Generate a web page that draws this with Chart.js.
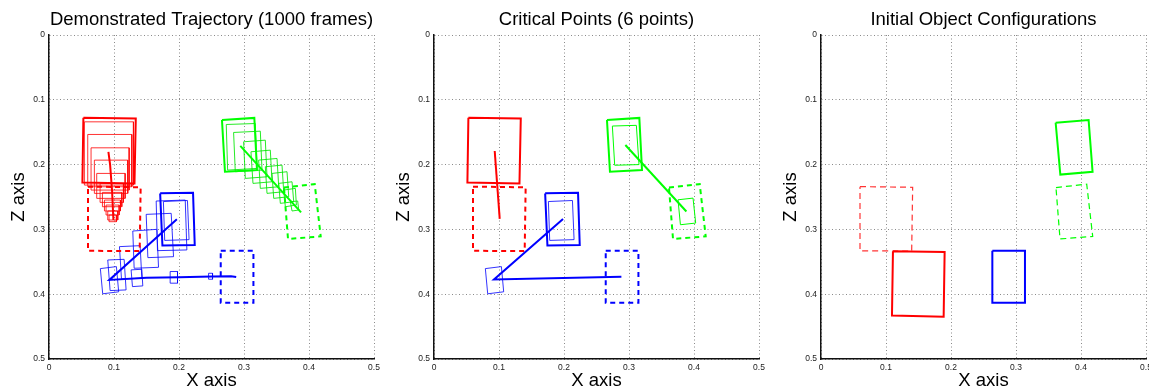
<!DOCTYPE html>
<html>
<head>
<meta charset="utf-8">
<title>Object trajectories</title>
<script src="https://cdn.jsdelivr.net/npm/chart.js@4.4.0/dist/chart.umd.min.js"></script>
<style>
  body { margin: 0; background: #fff; width: 1149px; height: 392px; position: relative; overflow: hidden; }
  canvas { position: absolute; top: 0; }
  #trajChart { left: 0; }
  #criticalChart { left: 385px; }
  #initChart { left: 772px; }
</style>
</head>
<body>
<canvas id="trajChart" width="385" height="392"></canvas>
<canvas id="criticalChart" width="387" height="392"></canvas>
<canvas id="initChart" width="377" height="392"></canvas>
<script>
// axis ticks (x and z share the same range)
const tickValues = [0, 0.1, 0.2, 0.3, 0.4, 0.5];
const tickLabels = ["0", "0.1", "0.2", "0.3", "0.4", "0.5"];
const panelTitles = ["Demonstrated Trajectory (1000 frames)", "Critical Points (6 points)", "Initial Object Configurations"];

// goal boxes (dashed), corners as [x, z]
const redGoal = [[0.060, 0.234], [0.141, 0.235], [0.1395, 0.3335], [0.060, 0.333]];
const greenGoal = [[0.3615, 0.2354], [0.4088, 0.2302], [0.418, 0.3108], [0.3677, 0.3148]];
const blueGoal = [[0.2642, 0.3328], [0.3145, 0.3328], [0.3145, 0.4132], [0.2642, 0.4132]];

// first frame of each object (thick)
const redStart = [[0.0529, 0.1278], [0.1335, 0.1289], [0.1315, 0.229], [0.0514, 0.2276]];
const greenStart = [[0.2661, 0.131], [0.3159, 0.1279], [0.320, 0.2085], [0.2707, 0.211]];
const blueStart = [[0.171, 0.2444], [0.2216, 0.2435], [0.2242, 0.324], [0.1745, 0.325]];

// trajectory frames (thin)
const redFrames = [
  [[0.0544, 0.134], [0.1299, 0.134], [0.1299, 0.2316], [0.0544, 0.2316]],
  [[0.0596, 0.1535], [0.1274, 0.1535], [0.1274, 0.2342], [0.0596, 0.2342]],
  [[0.0647, 0.1741], [0.1233, 0.1741], [0.1233, 0.2393], [0.0647, 0.2393]],
  [[0.0698, 0.1931], [0.1212, 0.1931], [0.1212, 0.2444], [0.0698, 0.2444]],
  [[0.0734, 0.2136], [0.1171, 0.2136], [0.1171, 0.2521], [0.0734, 0.2521]],
  [[0.0786, 0.229], [0.1145, 0.229], [0.1145, 0.2583], [0.0786, 0.2583]],
  [[0.0822, 0.2429], [0.112, 0.2429], [0.112, 0.265], [0.0822, 0.265]],
  [[0.0853, 0.2547], [0.1099, 0.2547], [0.1099, 0.2716], [0.0853, 0.2716]],
  [[0.0878, 0.2624], [0.1079, 0.2624], [0.1079, 0.2778], [0.0878, 0.2778]],
  [[0.0904, 0.2716], [0.1058, 0.2716], [0.1058, 0.2855], [0.0904, 0.2855]],
  [[0.0924, 0.2778], [0.1037, 0.2778], [0.1037, 0.2881], [0.0924, 0.2881]]
];
const greenFrames = [
  [[0.2727, 0.1381], [0.3174, 0.1366], [0.320, 0.2059], [0.2748, 0.2085]],
  [[0.284, 0.1504], [0.3251, 0.1484], [0.3277, 0.2085], [0.2866, 0.211]],
  [[0.2994, 0.1648], [0.3328, 0.1623], [0.3354, 0.2188], [0.302, 0.2213]],
  [[0.3107, 0.1802], [0.3405, 0.1777], [0.3431, 0.2265], [0.3138, 0.229]],
  [[0.3225, 0.1931], [0.3508, 0.1905], [0.3534, 0.2342], [0.3251, 0.2367]],
  [[0.3328, 0.2033], [0.3585, 0.2008], [0.3611, 0.2419], [0.3354, 0.2444]],
  [[0.3431, 0.2136], [0.3662, 0.211], [0.3688, 0.2496], [0.3457, 0.2521]],
  [[0.3534, 0.229], [0.3739, 0.2265], [0.3765, 0.2573], [0.3559, 0.2598]],
  [[0.3611, 0.2393], [0.379, 0.2367], [0.3806, 0.2624], [0.3636, 0.265]],
  [[0.3713, 0.2573], [0.3826, 0.2562], [0.3842, 0.2701], [0.3739, 0.2716]]
];
const blueFrames = [
  [[0.176, 0.257], [0.213, 0.2554], [0.2155, 0.3158], [0.178, 0.317]],
  [[0.1649, 0.2562], [0.2096, 0.2547], [0.2121, 0.3317], [0.1669, 0.3328]],
  [[0.1495, 0.2768], [0.188, 0.2752], [0.1916, 0.3421], [0.1521, 0.3436]],
  [[0.1289, 0.3025], [0.1659, 0.2999], [0.1685, 0.3585], [0.131, 0.360]],
  [[0.1084, 0.3266], [0.1402, 0.3251], [0.1428, 0.3754], [0.1115, 0.3765]],
  [[0.0904, 0.3472], [0.1156, 0.3462], [0.1186, 0.3934], [0.094, 0.3944]],
  [[0.079, 0.3605], [0.1037, 0.3574], [0.1072, 0.3963], [0.0826, 0.3994]],
  [[0.1263, 0.3625], [0.1428, 0.3615], [0.1443, 0.3872], [0.1284, 0.3883]],
  [[0.1864, 0.365], [0.1977, 0.365], [0.1977, 0.383], [0.1864, 0.383]],
  [[0.2455, 0.3677], [0.2516, 0.3677], [0.2516, 0.3769], [0.2455, 0.3769]]
];

// centre paths of the demonstration
const redPath = [[0.0914, 0.1802], [0.094, 0.200], [0.097, 0.240], [0.0991, 0.2855]];
const greenPath = [[0.2943, 0.171], [0.3878, 0.2737]];
const bluePath = [[0.1967, 0.2845], [0.0929, 0.378], [0.150, 0.3745], [0.200, 0.3738], [0.250, 0.3728], [0.280, 0.3722], [0.288, 0.3735]];

// critical point boxes
const greenCritical = [
  [[0.2744, 0.1405], [0.3113, 0.1394], [0.3154, 0.200], [0.278, 0.201]],
  [[0.3754, 0.2543], [0.3985, 0.2517], [0.4026, 0.2902], [0.3791, 0.2928]]
];
const blueCritical = [
  [[0.176, 0.257], [0.213, 0.2554], [0.2155, 0.3158], [0.178, 0.317]],
  [[0.079, 0.3605], [0.1037, 0.3574], [0.1072, 0.3963], [0.0826, 0.3994]]
];
const redCriticalPath = [[0.0934, 0.179], [0.1011, 0.2838]];
const greenCriticalPath = [[0.2944, 0.1697], [0.3883, 0.2723]];
const blueCriticalPath = [[0.1985, 0.284], [0.0923, 0.3774], [0.2883, 0.3732]];

// initial configuration
const redInit = [[0.1107, 0.3338], [0.1902, 0.3348], [0.1887, 0.4348], [0.1092, 0.4328]];
const greenInit = [[0.361, 0.1354], [0.4117, 0.1312], [0.4178, 0.2112], [0.3682, 0.2154]];
const blueInit = [[0.2636, 0.3328], [0.3138, 0.3328], [0.3138, 0.4132], [0.2636, 0.4132]];

const RED = "#ff0000", GREEN = "#00ff00", BLUE = "#0000ff";
const RED_T = "rgba(255,0,0,0.8)", GREEN_T = "rgba(0,230,0,0.85)", BLUE_T = "rgba(0,0,255,0.8)";
const FONT = "'Liberation Sans', Arial, sans-serif";

/* ==========================
   Helpers
========================== */
function toPoints(list) {
    return list.map(p => ({ x: p[0], y: p[1] }));
}

function box(corners, color, width, dash) {
    const pts = toPoints(corners);
    pts.push(pts[0]);
    return line(pts, color, width, dash);
}

function path(list, color, width) {
    return line(toPoints(list), color, width);
}

function line(data, color, width, dash) {
    return {
        data: data,
        showLine: true,
        borderColor: color,
        borderWidth: width,
        borderDash: dash || [],
        borderJoinStyle: "miter",
        pointRadius: 0,
        pointHoverRadius: 0,
        fill: false,
        tension: 0
    };
}

function axis(title, isX) {
    return {
        type: "linear",
        min: 0,
        max: 0.5,
        reverse: !isX,
        afterBuildTicks: s => { s.ticks = tickValues.map(v => ({ value: v })); },
        afterFit: s => {
            if (isX) { s.height = 33; s.paddingLeft = 0; s.paddingRight = 0; }
            else { s.width = 49; s.paddingTop = 0; s.paddingBottom = 0; }
        },
        ticks: {
            padding: 4,
            color: "#222",
            font: { family: FONT, size: 8.5 },
            maxRotation: 0,
            callback: (v, i) => tickLabels[i]
        },
        grid: { color: "#8a8a8a", lineWidth: 1, drawTicks: false },
        border: { display: true, color: "#111", width: 1.5, dash: [1, 2.5] },
        title: {
            display: true,
            text: title,
            color: "#000",
            font: { family: FONT, size: 18.5 },
            padding: isX ? { top: 0, bottom: 0 } : { top: 8, bottom: 0 }
        }
    };
}

function makePanel(id, title, rightPad, datasets) {
    new Chart(document.getElementById(id), {
        type: "scatter",
        data: { datasets: datasets },
        options: {
            responsive: false,
            animation: false,
            devicePixelRatio: 1,
            layout: { padding: { left: 0, right: rightPad, top: 0, bottom: 0 } },
            scales: { x: axis("X axis", true), y: axis("Z axis", false) },
            plugins: {
                legend: { display: false },
                tooltip: { enabled: false },
                title: {
                    display: true,
                    text: title,
                    fullSize: false,
                    color: "#000",
                    font: { family: FONT, size: 18.5, weight: "normal", lineHeight: 1.2 },
                    padding: { top: 9, bottom: 3.8 }
                }
            }
        }
    });
}

/* ==========================
   Demonstrated trajectory
========================== */
const trajSets = [
    box(redGoal, RED, 2, [5, 4]),
    box(greenGoal, GREEN, 2, [5, 4]),
    box(blueGoal, BLUE, 2, [5, 4]),
    box(redStart, RED, 2),
    box(greenStart, GREEN, 2),
    box(blueStart, BLUE, 2),
    path(redPath, RED, 2),
    path(greenPath, GREEN, 2),
    path(bluePath, BLUE, 2)
];
redFrames.forEach(b => trajSets.push(box(b, RED_T, 1)));
greenFrames.forEach(b => trajSets.push(box(b, GREEN_T, 1)));
blueFrames.forEach(b => trajSets.push(box(b, BLUE_T, 1)));
makePanel("trajChart", panelTitles[0], 11, trajSets);

/* ==========================
   Critical points
========================== */
const critSets = [
    box(redGoal, RED, 2, [5, 4]),
    box(greenGoal, GREEN, 2, [5, 4]),
    box(blueGoal, BLUE, 2, [5, 4]),
    box(redStart, RED, 2),
    box(greenStart, GREEN, 2),
    box(blueStart, BLUE, 2),
    path(redCriticalPath, RED, 2),
    path(greenCriticalPath, GREEN, 2),
    path(blueCriticalPath, BLUE, 2)
];
greenCritical.forEach(b => critSets.push(box(b, GREEN, 1)));
blueCritical.forEach(b => critSets.push(box(b, BLUE_T, 1)));
makePanel("criticalChart", panelTitles[1], 13, critSets);

/* ==========================
   Initial configuration
========================== */
makePanel("initChart", panelTitles[2], 3, [
    box(redGoal, RED_T, 1.2, [6, 4]),
    box(greenGoal, GREEN, 1.2, [6, 4]),
    box(redInit, RED, 2),
    box(greenInit, GREEN, 2),
    box(blueInit, BLUE, 2)
]);
</script>
</body>
</html>
